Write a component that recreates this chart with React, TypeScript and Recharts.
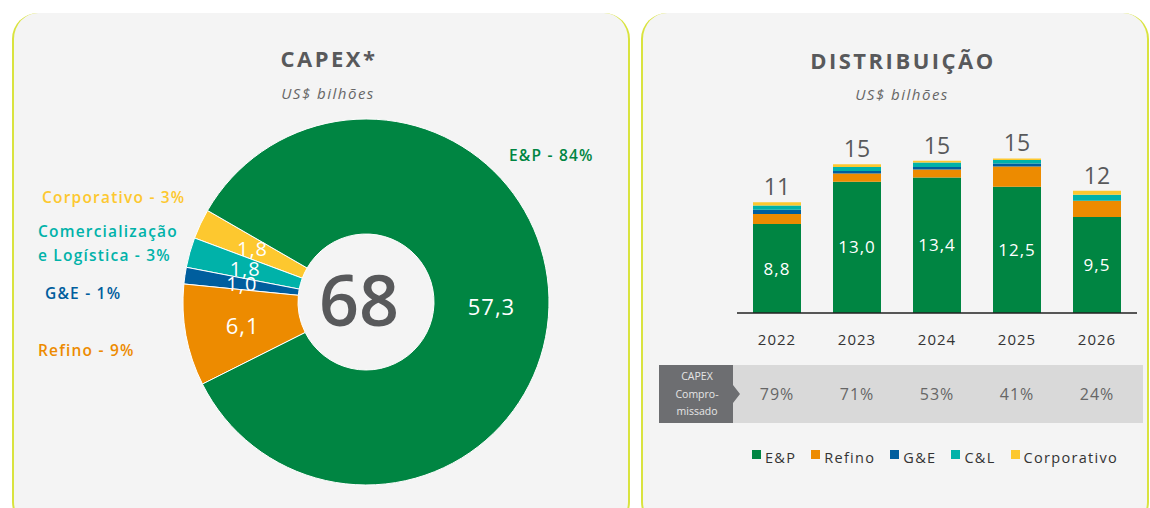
import React from "react";
import { PieChart, Pie, Cell, BarChart, Bar, XAxis, YAxis, LabelList } from "recharts";

// capex total (donut)
const capexSegments = ["Corporativo", "C&L", "G&E", "Refino", "E&P"];
const capexValues = [1.8, 1.8, 1.0, 6.1, 57.3];
const capexValueLabels = ["1,8", "1,8", "1,0", "6,1", "57,3"];

// distribution by year (stacked bars)
const years = ["2022", "2023", "2024", "2025", "2026"];
const epValues = [8.8, 13.0, 13.4, 12.5, 9.5];
const refinoValues = [1.0, 0.8, 0.8, 2.0, 1.6];
const geValues = [0.43, 0.26, 0.26, 0.3, 0];
const clValues = [0.4, 0.4, 0.43, 0.33, 0.6];
const corpValues = [0.33, 0.26, 0.17, 0.17, 0.4];
const totalLabels = ["11", "15", "15", "15", "12"];
const committedShare = ["79%", "71%", "53%", "41%", "24%"];

const seriesKeys = ["ep", "refino", "ge", "cl", "corp"];
const seriesNames = ["E&P", "Refino", "G&E", "C&L", "Corporativo"];

const COLORS: Record<string, string> = {
  "E&P": "#008542",
  Refino: "#ed8b00",
  "G&E": "#005e9e",
  "C&L": "#00b2a9",
  Corporativo: "#fdc82f",
};

const FONT = "'Open Sans', 'DejaVu Sans', sans-serif";
const GRAY = "#58595b";
const RADIAN = Math.PI / 180;

const pieData = capexSegments.map((name, i) => ({
  name,
  value: capexValues[i],
  label: capexValueLabels[i],
}));

const barData = years.map((year, i) => ({
  year,
  ep: epValues[i],
  refino: refinoValues[i],
  ge: geValues[i],
  cl: clValues[i],
  corp: corpValues[i],
}));

const renderPieLabel = (props: any) => {
  const { cx, cy, midAngle, innerRadius, outerRadius, index } = props;
  const r = (innerRadius + outerRadius) / 2;
  const x = cx + r * Math.cos(-midAngle * RADIAN);
  const y = cy + r * Math.sin(-midAngle * RADIAN);
  return (
    <text
      x={x}
      y={y}
      fill="#ffffff"
      textAnchor="middle"
      dominantBaseline="central"
      fontSize={index < 3 ? 20 : 22}
      fontFamily={FONT}
      letterSpacing={1}
    >
      {capexValueLabels[index]}
    </text>
  );
};

const renderTotal = (props: any) => {
  const { x, y, width, index } = props;
  return (
    <text
      x={x + width / 2}
      y={y - 7}
      textAnchor="middle"
      fill={GRAY}
      fontSize={23}
      fontFamily={FONT}
    >
      {totalLabels[index]}
    </text>
  );
};

const panelStyle: React.CSSProperties = {
  position: "absolute",
  top: 13,
  height: 515,
  background: "#f4f4f4",
  borderRadius: 26,
  borderLeft: "2px solid #d9e33f",
  borderRight: "2px solid #d9e33f",
  boxSizing: "border-box",
};

const titleStyle: React.CSSProperties = {
  position: "absolute",
  width: 300,
  textAlign: "center",
  fontSize: 22,
  fontWeight: 700,
  letterSpacing: 2.5,
  color: GRAY,
  lineHeight: "24px",
};

const subStyle: React.CSSProperties = {
  position: "absolute",
  width: 300,
  textAlign: "center",
  fontSize: 15,
  fontStyle: "italic",
  letterSpacing: 1.5,
  color: "#666",
  lineHeight: "18px",
};

const sideLabel = (color: string): React.CSSProperties => ({
  position: "absolute",
  fontSize: 15.5,
  fontWeight: 600,
  color,
  letterSpacing: 1.2,
  lineHeight: "18px",
  whiteSpace: "nowrap",
});

export default function App() {
  return (
    <div
      style={{
        position: "fixed",
        left: 0,
        top: 0,
        width: 1150,
        height: 508,
        overflow: "hidden",
        background: "#ffffff",
        fontFamily: FONT,
      }}
    >
      <div style={{ ...panelStyle, left: 12, width: 618 }} />
      <div style={{ ...panelStyle, left: 641, width: 508 }} />

      {/* left: CAPEX donut */}
      <div style={{ ...titleStyle, left: 179, top: 46 }}>CAPEX*</div>
      <div style={{ ...subStyle, left: 178, top: 84 }}>US$ bilhões</div>

      <div style={{ position: "absolute", left: 0, top: 0 }}>
        <PieChart width={640} height={508}>
          <Pie
            data={pieData}
            dataKey="value"
            cx={361}
            cy={297}
            innerRadius={68}
            outerRadius={183}
            startAngle={150}
            endAngle={510}
            stroke="#ffffff"
            strokeWidth={1}
            label={renderPieLabel}
            labelLine={false}
            isAnimationActive={false}
          >
            {pieData.map((d) => (
              <Cell key={d.name} fill={COLORS[d.name]} />
            ))}
          </Pie>
          <text
            x={359}
            y={299}
            textAnchor="middle"
            dominantBaseline="central"
            fontSize={70}
            fontWeight={600}
            fill={GRAY}
            fontFamily={FONT}
          >
            {capexValues.reduce((a, b) => a + b, 0).toFixed(0)}
          </text>
        </PieChart>
      </div>

      <div style={{ ...sideLabel(COLORS["E&P"]), left: 509, top: 146 }}>E&amp;P - 84%</div>
      <div style={{ ...sideLabel(COLORS.Corporativo), left: 42, top: 188 }}>Corporativo - 3%</div>
      <div style={{ ...sideLabel(COLORS["C&L"]), left: 38, top: 222 }}>
        Comercialização
        <br />
        <span style={{ display: "inline-block", marginTop: 6 }}>e Logística - 3%</span>
      </div>
      <div style={{ ...sideLabel(COLORS["G&E"]), left: 45, top: 284 }}>G&amp;E - 1%</div>
      <div style={{ ...sideLabel(COLORS.Refino), left: 38, top: 341 }}>Refino - 9%</div>

      {/* right: distribution */}
      <div style={{ ...titleStyle, left: 753, top: 48 }}>DISTRIBUIÇÃO</div>
      <div style={{ ...subStyle, left: 752, top: 85 }}>US$ bilhões</div>

      <div style={{ position: "absolute", left: 737, top: 120 }}>
        <BarChart
          width={400}
          height={235}
          data={barData}
          margin={{ top: 0, right: 0, bottom: 0, left: 0 }}
          barCategoryGap={16}
        >
          <XAxis
            dataKey="year"
            axisLine={{ stroke: "#222", strokeWidth: 1.5 }}
            tickLine={false}
            tickMargin={15}
            height={42}
            tick={{ fill: "#333", fontSize: 15, fontFamily: FONT, letterSpacing: 1 }}
          />
          <YAxis hide domain={[0, 19.1]} />
          {seriesKeys.map((key, i) => (
            <Bar
              key={key}
              dataKey={key}
              stackId="a"
              fill={COLORS[seriesNames[i]]}
              barSize={48}
              isAnimationActive={false}
            >
              {key === "ep" && (
                <LabelList
                  dataKey="ep"
                  position="center"
                  fill="#ffffff"
                  fontSize={17}
                  fontFamily={FONT}
                  letterSpacing={1}
                  formatter={(v: any) => Number(v).toFixed(1).replace(".", ",")}
                />
              )}
              {key === "corp" && <LabelList dataKey="corp" content={renderTotal} />}
            </Bar>
          ))}
        </BarChart>
      </div>

      {/* committed capex row */}
      <div
        style={{
          position: "absolute",
          left: 659,
          top: 365,
          width: 484,
          height: 58,
          background: "#d9d9d9",
        }}
      />
      <svg style={{ position: "absolute", left: 659, top: 365 }} width={82} height={58}>
        <polygon points="0,0 74,0 74,20 81,29 74,38 74,58 0,58" fill="#6d6e71" />
        <text textAnchor="middle" fill="#e6e6e6" fontSize={10.5} fontFamily={FONT}>
          <tspan x={38} y={15}>CAPEX</tspan>
          <tspan x={38} y={33}>Compro-</tspan>
          <tspan x={38} y={50}>missado</tspan>
        </text>
      </svg>
      <div style={{ position: "absolute", left: 737, top: 384, display: "flex" }}>
        {committedShare.map((s) => (
          <div
            key={s}
            style={{
              width: 80,
              textAlign: "center",
              fontSize: 16,
              color: "#666",
              letterSpacing: 1,
              lineHeight: "20px",
            }}
          >
            {s}
          </div>
        ))}
      </div>

      {/* legend */}
      <div
        style={{
          position: "absolute",
          left: 752,
          top: 449,
          display: "flex",
          gap: 15,
          fontSize: 14.5,
          color: "#333",
          letterSpacing: 1.3,
          lineHeight: "18px",
        }}
      >
        {seriesNames.map((name) => (
          <div key={name} style={{ display: "flex", alignItems: "flex-start" }}>
            <span
              style={{
                display: "inline-block",
                width: 9,
                height: 9,
                marginTop: 1,
                marginRight: 4,
                background: COLORS[name],
              }}
            />
            {name}
          </div>
        ))}
      </div>
    </div>
  );
}
